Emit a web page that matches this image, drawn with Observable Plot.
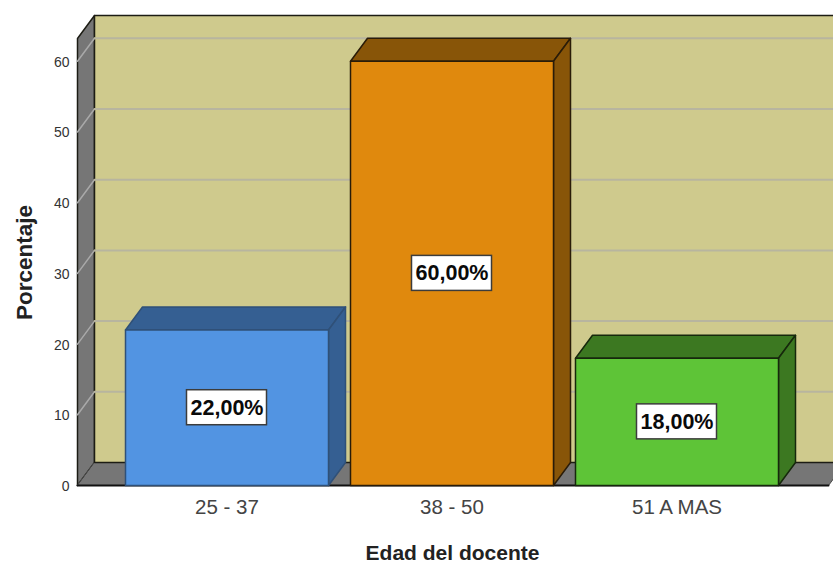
<!DOCTYPE html>
<html>
<head>
<meta charset="utf-8">
<style>html,body{margin:0;padding:0;background:#fff}svg{display:block}</style>
<script src="https://cdn.jsdelivr.net/npm/d3@7"></script>
<script src="https://cdn.jsdelivr.net/npm/@observablehq/plot@0.6"></script>
</head>
<body>
<div id="chart"></div>
<script>
const categories = ["25 - 37", "38 - 50", "51 A MAS"];
const values = [22, 60, 18];
const labels = ["22,00%", "60,00%", "18,00%"];
const frontColors = ["#5294e2", "#e0890d", "#5ec437"];
const shadeColors = ["#355f92", "#885508", "#3c7821"];
const edgeColors = ["#2f5078", "#2a1c08", "#16280c"];
const yTicks = [0, 10, 20, 30, 40, 50, 60];

const W = 833, H = 565, mL = 77, mT = 15, mB = 80;
const pxX = 225, pxY = 7.07;
const xMin = -(226.5 - mL) / pxX, xMax = xMin + (W - mL) / pxX;
const yMax = (H - mB - mT) / pxY;
const floorEnd = xMin + (828 - mL) / pxX;
const dX = 17 / pxX, dY = 23 / pxY;
const halfBar = 101.5 / pxX;
const boxW = 40 / pxX, boxH = 17.5 / pxY;
const ink = "#1c1c14";

const pts = a => a.map(([x, y]) => ({x, y}));
const face = (a, fill, stroke = ink, strokeWidth = 1.5) =>
  Plot.line(pts(a), {x: "x", y: "y", fill, stroke, strokeWidth, curve: "linear-closed"});

const marks = [
  face([[xMin, 0], [xMin + dX, dY], [xMin + dX, yMax], [xMin, yMax - dY]], "#767676"),
  face([[xMin, 0], [floorEnd, 0], [floorEnd + dX, dY], [xMin + dX, dY]], "#767676", "#4a4a4a", 1),
  face([[xMin + dX, dY], [xMax + 1, dY], [xMax + 1, yMax], [xMin + dX, yMax]], "#cfca8d")
];

yTicks.filter(v => v > 0).forEach(v => {
  marks.push(Plot.line(pts([[xMin, v], [xMin + dX, v + dY]]), {x: "x", y: "y", stroke: "#a9a9a9", strokeWidth: 1.5}));
  marks.push(Plot.line(pts([[xMin + dX, v + dY], [xMax, v + dY]]), {x: "x", y: "y", stroke: "#b8b59f", strokeWidth: 2}));
});

marks.push(Plot.line(pts([[xMin, 0], [floorEnd, 0]]), {x: "x", y: "y", stroke: "#111", strokeWidth: 2}));

categories.forEach((c, i) => {
  const v = values[i], a = i - halfBar, b = i + halfBar, e = edgeColors[i];
  marks.push(face([[a, v], [b, v], [b + dX, v + dY], [a + dX, v + dY]], shadeColors[i], e));
  marks.push(face([[b, 0], [b + dX, dY], [b + dX, v + dY], [b, v]], shadeColors[i], e));
  marks.push(face([[a, 0], [b, 0], [b, v], [a, v]], frontColors[i], e));
});

marks.push(
  Plot.rect(values, {
    x1: (d, i) => i - boxW, x2: (d, i) => i + boxW,
    y1: d => d / 2 - boxH, y2: d => d / 2 + boxH,
    fill: "#fff", stroke: "#3c3c3c", strokeWidth: 1.5
  }),
  Plot.text(labels, {
    x: (d, i) => i, y: (d, i) => values[i] / 2, text: d => d,
    fontSize: 21.5, fontWeight: "bold", fill: "#0a0a0a", stroke: "none"
  }),
  Plot.axisY({ticks: yTicks, tickSize: 0, tickPadding: 8, dy: 1, label: null, fontSize: 14, color: "#333"}),
  Plot.axisX({ticks: [0, 1, 2], tickFormat: i => categories[i], tickSize: 0, tickPadding: 14, label: null, fontSize: 20.5, color: "#444"}),
  Plot.text(["Edad del docente"], {frameAnchor: "bottom", dx: -3, dy: 74, text: d => d, fontSize: 21, fontWeight: "bold", fill: "#222"}),
  Plot.text(["Porcentaje"], {frameAnchor: "left", textAnchor: "middle", dx: -53, dy: 12, rotate: -90, text: d => d, fontSize: 22.5, fontWeight: "bold", fill: "#222"})
);

const chart = Plot.plot({
  width: W, height: H,
  marginLeft: mL, marginRight: 0, marginTop: mT, marginBottom: mB,
  style: {background: "#fff", fontFamily: "'Liberation Sans', Arial, sans-serif", overflow: "hidden"},
  x: {type: "linear", domain: [xMin, xMax], axis: null},
  y: {domain: [0, yMax], axis: null},
  marks
});
document.getElementById("chart").appendChild(chart);
</script>
</body>
</html>
